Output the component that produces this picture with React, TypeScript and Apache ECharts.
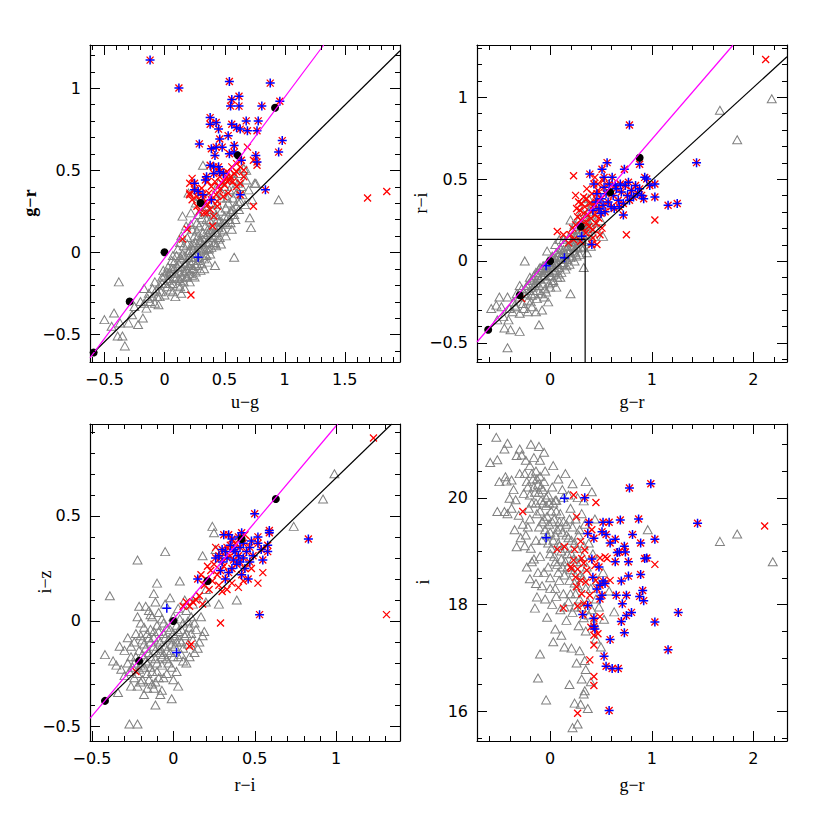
import React, { useEffect, useRef } from "react";
import * as echarts from "echarts";

// ---------- Panel 1: u-g vs g-r ----------
const p1Grey: number[][] = [
  [-0.5,-0.41],[-0.44,-0.45],[-0.39,-0.51],[-0.35,-0.51],[-0.33,-0.57],[-0.37,-0.43],[-0.3,-0.43],[-0.27,-0.38],[-0.22,-0.44],[-0.18,-0.4],
  [-0.15,-0.34],[-0.17,-0.31],[-0.17,-0.22],[-0.38,-0.18],[-0.42,-0.37],[-0.25,-0.33],[-0.2,-0.3],[-0.12,-0.3],[-0.08,-0.31],[-0.05,-0.32],
  [-0.13,-0.25],[-0.1,-0.22],[-0.06,-0.27],[-0.03,-0.24],[-0.08,-0.18],[-0.04,-0.2],[-0.02,-0.15],
  [0.0,-0.26],[0.02,-0.21],[0.03,-0.17],[0.05,-0.23],[0.05,-0.13],[0.07,-0.19],[0.08,-0.1],[0.09,-0.27],[0.1,-0.15],[0.11,-0.2],
  [0.12,-0.07],[0.12,-0.12],[0.13,-0.21],[0.14,-0.04],[0.15,-0.15],[0.15,-0.09],[0.16,-0.18],[0.17,-0.02],[0.18,-0.11],[0.18,-0.06],
  [0.19,-0.15],[0.2,0.0],[0.2,-0.08],[0.21,-0.13],[0.22,-0.03],[0.22,0.04],[0.23,-0.1],[0.24,-0.05],[0.24,0.02],[0.25,-0.15],
  [0.26,0.06],[0.26,-0.01],[0.27,-0.07],[0.28,0.03],[0.28,0.1],[0.29,-0.03],[0.3,0.07],[0.3,-0.11],[0.31,0.01],[0.32,0.12],
  [0.32,0.05],[0.33,-0.04],[0.34,0.09],[0.34,0.16],[0.35,0.02],[0.36,0.11],[0.36,-0.06],[0.37,0.06],[0.38,0.14],[0.38,0.19],
  [0.39,0.03],[0.4,0.1],[0.4,0.22],[0.41,0.16],[0.42,-0.08],[0.42,0.06],[0.43,0.12],[0.44,0.2],[0.45,0.15],[0.46,0.09],
  [0.47,0.25],[0.48,0.18],[0.49,0.13],[0.5,0.22],[0.51,0.27],[0.52,0.17],[0.53,0.3],[0.54,0.2],[0.55,0.25],[0.56,0.14],
  [0.57,0.33],[0.58,0.23],[0.58,-0.03],[0.6,0.28],[0.6,0.36],[0.62,0.26],[0.63,0.31],[0.64,0.4],[0.65,0.35],[0.67,0.29],
  [0.68,0.44],[0.7,0.38],[0.71,0.21],[0.72,0.15],[0.73,0.32],[0.75,0.42],[0.95,0.32],
  [0.1,-0.02],[0.06,-0.05],[0.14,-0.25],[0.03,-0.09],[0.08,-0.15],[0.17,-0.22],[0.21,-0.18],[0.19,0.05],[0.25,0.1],[0.23,0.14],
  [0.29,0.16],[0.31,0.21],[0.27,0.18],[0.33,0.25],[0.35,0.28],[0.36,0.34],[0.39,0.3],[0.42,0.36],[0.45,0.42],[0.47,0.33],
  [0.5,0.4],[0.53,0.45],[0.55,0.48],[0.58,0.44],[0.62,0.48],[0.66,0.51],[0.54,0.38],[0.4,0.26],[0.3,0.34],[0.26,0.3],
  [0.22,0.24],[0.18,0.16],[0.15,0.22],[0.25,0.38],[0.2,0.36],[0.14,0.1],[0.22,0.17],[0.16,0.04],[0.11,0.02],[0.07,-0.02],
  [0.04,-0.12],[0.01,-0.19],[-0.01,-0.11],[0.13,0.06],[0.28,0.23],[0.37,0.24],[0.44,0.29],[0.48,0.36],[0.52,0.33],[0.57,0.38],
  [0.61,0.42],[0.43,0.04],[0.35,-0.02],[0.47,0.05],[0.33,-0.1],[0.26,-0.12],[0.38,-0.01],[0.32,0.53],[0.68,0.5],[0.76,0.42],
  [0.0,-0.14],[0.02,-0.12],[0.04,-0.16],[0.06,-0.1],[0.08,-0.06],[0.09,-0.13],[0.11,-0.09],[0.13,-0.03],[0.13,-0.17],[0.15,-0.01],
  [0.16,-0.12],[0.17,-0.07],[0.19,-0.1],[0.2,-0.03],[0.21,0.01],[0.22,-0.07],[0.23,-0.14],[0.24,0.05],[0.25,-0.03],[0.26,-0.08],
  [0.27,0.0],[0.28,-0.05],[0.29,0.07],[0.3,0.02],[0.31,-0.07],[0.32,0.08],[0.33,0.02],[0.34,-0.01],[0.35,0.06],[0.36,0.14],
  [0.37,0.02],[0.38,0.09],[0.39,0.12],[0.41,0.05],[0.42,0.1],[0.44,0.16],[0.45,0.08],[0.46,0.19],[0.48,0.14],[0.5,0.18],
  [0.51,0.1],[0.53,0.22],[0.55,0.18],[0.57,0.26],[0.59,0.2],[0.61,0.31],[0.05,-0.19],[0.07,-0.24],[-0.02,-0.19],[-0.04,-0.27],
  [-0.07,-0.23],[-0.1,-0.27],[-0.14,-0.28],[0.12,-0.16],[0.18,-0.15],[0.24,-0.1],[0.19,0.09],[0.27,0.13],[0.35,0.2],[0.43,0.23]
];
const p1Star: number[][] = [
  [-0.12,1.17],[0.12,1.0],[0.54,1.04],[0.88,1.03],[0.56,0.93],[0.62,0.95],[0.55,0.89],[0.62,0.89],[0.81,0.89],[0.96,0.92],
  [0.38,0.82],[0.43,0.79],[0.38,0.78],[0.45,0.75],[0.56,0.78],[0.6,0.76],[0.63,0.75],[0.68,0.8],[0.69,0.74],[0.78,0.8],[0.77,0.74],
  [0.53,0.71],[0.46,0.69],[0.29,0.66],[0.39,0.63],[0.43,0.64],[0.48,0.64],[0.58,0.65],[0.58,0.61],[0.98,0.68],[0.95,0.61],
  [0.54,0.6],[0.76,0.59],[0.77,0.55],[0.42,0.59],[0.38,0.53],[0.41,0.52],[0.45,0.52],[0.41,0.48],[0.46,0.49],[0.49,0.48],
  [0.35,0.46],[0.25,0.42],[0.34,0.44],[0.25,0.38],[0.28,0.37],[0.32,0.35],[0.39,0.32],[0.64,0.56],[0.63,0.35],[0.84,0.38]
];
const p1BlueOnly: number[][] = [[0.28,-0.03]];
const p1RedOnly: number[][] = [
  [0.23,0.45],[0.21,0.42],[0.21,0.35],[0.23,0.32],[0.27,0.34],[0.32,0.33],[0.37,0.36],[0.45,0.4],[0.48,0.42],[0.51,0.45],
  [0.52,0.43],[0.55,0.46],[0.58,0.48],[0.6,0.49],[0.56,0.52],[0.63,0.52],[0.66,0.5],[0.69,0.64],[0.63,0.42],[0.44,0.28],
  [0.38,0.26],[0.35,0.24],[0.41,0.22],[0.4,0.16],[0.19,0.14],[0.15,0.08],[0.22,-0.26],[0.74,0.28],[0.74,0.56],[0.77,0.53],
  [1.69,0.33],[1.85,0.37],[0.46,0.38],[0.49,0.34],[0.53,0.36],[0.33,0.3],[0.27,0.28],[0.29,0.25],[0.46,0.46],[0.42,0.43],
  [0.66,0.46],[0.6,0.4],[0.21,0.36],[0.3,0.31],[0.36,0.29],[0.5,0.41],[0.54,0.44],[0.57,0.43],[0.43,0.35],[0.39,0.4],
  [0.36,0.43],[0.31,0.39],[0.52,0.49],[0.6,0.54],[0.33,0.24],[0.44,0.31]
];
const p1Dots: number[][] = [[-0.59,-0.61],[-0.29,-0.3],[0,0],[0.3,0.3],[0.61,0.59],[0.92,0.88]];
const p1Magenta: number[][] = [[-0.62,-0.643],[1.325,1.262]];
const p1Black: number[][] = [[-0.6,-0.618],[1.96,1.227]];

// ---------- Panel 2: g-r vs r-i ----------
const p2Grey: number[][] = [
  [-0.5,-0.22],[-0.42,-0.22],[-0.58,-0.29],[-0.53,-0.27],[-0.46,-0.34],[-0.41,-0.36],[-0.45,-0.41],[-0.39,-0.42],[-0.3,-0.43],[-0.42,-0.53],
  [-0.52,-0.36],[-0.11,-0.39],[-0.34,-0.28],[-0.3,-0.32],[-0.22,-0.31],[-0.25,0.0],[0.2,-0.2],[0.33,-0.04],[0.52,0.15],[0.5,0.245],
  [2.18,0.99],[1.67,0.92],[1.84,0.74],[-0.02,-0.25],[-0.36,-0.25],[-0.27,-0.26],[-0.18,-0.28],[-0.14,-0.31],[-0.08,-0.3],
  [-0.25,-0.2],[-0.23,-0.15],[-0.22,-0.24],[-0.2,-0.18],[-0.19,-0.12],[-0.18,-0.21],[-0.17,-0.16],[-0.16,-0.09],[-0.15,-0.2],[-0.14,-0.13],
  [-0.13,-0.18],[-0.12,-0.07],[-0.11,-0.15],[-0.1,-0.11],[-0.09,-0.2],[-0.08,-0.05],[-0.07,-0.14],[-0.06,-0.09],[-0.05,-0.17],[-0.04,-0.03],
  [-0.03,-0.11],[-0.02,-0.07],[-0.01,-0.14],[0.0,-0.02],[0.01,-0.09],[0.02,-0.05],[0.03,-0.12],[0.04,0.0],[0.05,-0.06],[0.06,-0.02],
  [0.07,-0.1],[0.08,0.03],[0.09,-0.04],[0.1,0.01],[0.11,-0.07],[0.12,0.05],[0.13,-0.01],[0.14,0.03],[0.15,-0.05],[0.16,0.07],
  [0.17,0.01],[0.18,0.05],[0.19,-0.02],[0.2,0.09],[0.21,0.03],[0.22,0.12],[0.23,0.06],[0.24,0.0],[0.25,0.14],[0.26,0.08],
  [0.27,0.17],[0.28,0.11],[0.29,0.04],[0.3,0.2],[0.31,0.14],[0.32,0.23],[0.33,0.08],[0.34,0.18],[0.35,0.27],[0.36,0.12],
  [0.37,0.22],[0.38,0.3],[0.39,0.16],[0.4,0.33],[0.42,0.25],[0.44,0.36],[0.45,0.2],[0.47,0.3],[0.22,0.19],[0.18,0.14],
  [0.14,0.11],[0.1,0.08],[0.06,0.05],[0.02,0.03],[-0.02,0.0],[-0.06,-0.03],[-0.1,-0.04],[-0.14,-0.07],[-0.2,-0.1],[-0.28,-0.17],
  [-0.3,-0.22],[-0.33,-0.2],[0.13,0.13],[0.24,0.22],[0.29,0.26],[0.31,0.3],[0.26,0.03],[0.16,-0.03],[0.08,-0.08],[0.0,-0.16],
  [-0.06,-0.22],[0.36,0.05],[0.4,0.09],[0.05,0.1],[-0.03,0.06],[0.09,0.13],[0.2,0.25],[0.34,0.36],[0.38,0.38],[0.43,0.15],
  [-0.48,-0.28],[-0.37,-0.31],[-0.26,-0.29],
  [-0.24,-0.17],[-0.21,-0.14],[-0.17,-0.11],[-0.15,-0.15],[-0.12,-0.1],[-0.11,-0.05],[-0.08,-0.09],[-0.07,-0.03],[-0.05,-0.07],[-0.03,-0.04],
  [-0.01,-0.06],[0.0,-0.09],[0.01,0.0],[0.03,-0.03],[0.04,-0.07],[0.05,0.02],[0.07,-0.01],[0.08,-0.04],[0.09,0.05],[0.11,0.02],
  [0.12,-0.02],[0.13,0.07],[0.15,0.04],[0.16,0.01],[0.17,0.09],[0.19,0.06],[0.2,0.02],[0.21,0.11],[0.23,0.09],[0.24,0.15],
  [0.25,0.05],[0.26,0.12],[0.27,0.08],[0.28,0.15],[0.29,0.19],[0.3,0.09],[0.32,0.16],[0.33,0.21],[0.35,0.13],[0.36,0.2],
  [0.37,0.25],[0.39,0.22],[0.41,0.28],[-0.13,-0.23],[-0.19,-0.25],[-0.04,-0.19],[0.02,-0.13],[-0.3,-0.15],[-0.35,-0.27],[-0.4,-0.29],
  [0.06,-0.16],[0.1,-0.1]
];
const p2Star: number[][] = [
  [0.78,0.83],[1.44,0.6],[0.56,0.6],[0.39,0.53],[0.51,0.56],[0.53,0.51],[0.61,0.51],[0.73,0.56],[0.88,0.59],[0.93,0.51],
  [0.95,0.5],[1.03,0.47],[0.98,0.46],[0.69,0.47],[0.77,0.48],[0.43,0.47],[1.03,0.39],[1.16,0.34],[1.25,0.35],[0.92,0.38],
  [0.72,0.28],[0.41,0.1],[0.45,0.36],[0.48,0.32],[0.5,0.38],[0.52,0.34],[0.55,0.41],[0.57,0.36],[0.6,0.33],[0.62,0.4],
  [0.65,0.44],[0.67,0.37],[0.7,0.42],[0.72,0.35],[0.74,0.46],[0.76,0.4],[0.78,0.37],[0.8,0.43],[0.82,0.39],[0.84,0.46],
  [0.86,0.41],[0.88,0.44],[0.9,0.4],[0.46,0.41],[0.53,0.45],[0.58,0.47],[0.63,0.32],[0.68,0.33],[0.54,0.3],[0.42,0.31],
  [0.5,0.29],[0.64,0.46]
];
const p2BlueOnly: number[][] = [[0.14,0.02],[-0.04,-0.03],[0.31,0.15]];
const p2RedOnly: number[][] = [
  [0.23,0.52],[0.25,0.4],[0.07,0.18],[0.13,0.16],[0.75,0.16],[1.03,0.25],[2.12,1.23],[-0.28,-0.23],[0.44,0.51],
  [0.25,0.22],[0.27,0.27],[0.29,0.31],[0.3,0.25],[0.31,0.35],[0.32,0.2],[0.33,0.29],[0.34,0.33],[0.35,0.24],[0.36,0.38],
  [0.37,0.28],[0.38,0.21],[0.39,0.35],[0.4,0.26],[0.41,0.41],[0.42,0.19],[0.43,0.34],[0.44,0.28],[0.45,0.23],[0.46,0.37],
  [0.47,0.43],[0.48,0.26],[0.49,0.16],[0.51,0.2],[0.28,0.36],[0.26,0.32],[0.22,0.2],[0.2,0.16],[0.35,0.17],[0.3,0.12],
  [0.23,0.13],[0.18,0.11],[0.47,0.47],[0.52,0.49],[0.36,0.44],[0.33,0.39],[0.42,0.14],[0.46,0.1]
];
const p2Dots: number[][] = [[-0.61,-0.42],[-0.3,-0.21],[0,0],[0.3,0.21],[0.59,0.42],[0.88,0.63]];
const p2Magenta: number[][] = [[-0.72,-0.495],[1.8,1.318]];
const p2Black: number[][] = [[-0.61,-0.42],[2.33,1.246]];
const p2Box: number[][] = [[-0.72,0.131],[0.344,0.131],[0.344,-0.617]];

// ---------- Panel 3: r-i vs i-z ----------
const p3Grey: number[][] = [
  [-0.42,-0.16],[-0.37,-0.19],[-0.35,-0.21],[-0.32,-0.23],[-0.33,-0.12],[-0.3,-0.14],[-0.28,-0.08],[-0.39,0.12],[-0.22,0.29],[-0.05,0.33],
  [-0.27,-0.49],[-0.22,-0.49],[-0.11,-0.4],[-0.01,-0.37],[-0.07,-0.33],[-0.26,-0.31],[-0.34,-0.34],[-0.21,0.07],[-0.22,0.02],[-0.1,0.18],
  [-0.12,0.13],[0.03,0.06],[0.04,0.19],[0.18,0.31],[0.24,0.45],[0.25,0.42],[0.39,0.1],[0.2,0.09],[0.28,0.08],[0.18,-0.07],
  [0.74,0.45],[0.92,0.58],[0.99,0.7],[0.26,0.34],[-0.17,0.07],[-0.15,0.05],[-0.14,0.03],[-0.2,-0.01],
  [-0.25,-0.22],[-0.24,-0.27],[-0.23,-0.17],[-0.22,-0.25],[-0.21,-0.14],[-0.2,-0.21],[-0.19,-0.28],[-0.18,-0.11],[-0.17,-0.19],[-0.16,-0.25],
  [-0.15,-0.08],[-0.15,-0.15],[-0.14,-0.22],[-0.13,-0.3],[-0.12,-0.05],[-0.12,-0.12],[-0.11,-0.18],[-0.1,-0.24],[-0.1,-0.02],[-0.09,-0.09],
  [-0.08,-0.15],[-0.07,-0.21],[-0.07,0.01],[-0.06,-0.06],[-0.05,-0.12],[-0.04,-0.18],[-0.04,-0.03],[-0.03,-0.09],[-0.02,-0.15],[-0.01,-0.22],
  [0.0,-0.06],[0.01,-0.12],[0.02,-0.02],[0.03,-0.17],[0.04,-0.09],[0.05,-0.04],[0.06,-0.13],[0.07,-0.07],[0.08,-0.2],[0.09,-0.11],
  [0.1,-0.03],[0.12,-0.09],[0.13,-0.15],[0.14,-0.04],[0.16,-0.1],[-0.18,-0.03],[-0.13,0.02],[-0.09,0.04],[-0.16,-0.32],[-0.11,-0.29],
  [-0.06,-0.27],[-0.2,-0.07],[-0.26,-0.12],[-0.23,-0.06],[-0.28,-0.2],[-0.3,-0.26],[-0.05,0.08],[0.0,0.02],[-0.14,-0.1],[-0.08,-0.13],
  [-0.02,-0.08],[0.04,0.01],[0.08,0.05],[0.11,0.02],[0.06,-0.19],[0.02,-0.24],[-0.04,-0.25],[0.1,-0.17],[0.15,-0.13],[0.12,0.08],
  [0.07,0.1],[0.14,0.12],[0.2,0.15],[-0.02,0.11],[-0.11,0.09],[0.03,-0.31],[-0.08,-0.35],[-0.18,-0.35],[0.17,0.02],[0.19,-0.05],
  [-0.24,-0.2],[-0.21,-0.23],[-0.19,-0.16],[-0.18,-0.22],[-0.17,-0.13],[-0.16,-0.06],[-0.14,-0.17],[-0.13,-0.24],[-0.12,-0.08],[-0.11,-0.14],
  [-0.1,-0.2],[-0.09,-0.05],[-0.08,-0.1],[-0.07,-0.17],[-0.06,-0.01],[-0.05,-0.08],[-0.04,-0.14],[-0.03,-0.2],[-0.02,-0.04],[-0.01,-0.11],
  [0.0,-0.17],[0.01,-0.07],[0.02,-0.1],[0.03,-0.05],[0.05,-0.1],[0.06,-0.01],[0.08,-0.06],[0.09,0.0],[0.11,-0.06],[0.13,-0.01],
  [-0.2,-0.29],[-0.15,-0.28],[-0.09,-0.27],[-0.12,-0.32],[-0.22,-0.31],[-0.26,-0.17],[-0.27,-0.24],[-0.16,-0.2],[-0.06,-0.16],[0.0,-0.28],
  [0.05,-0.16],[-0.19,-0.09],[-0.24,-0.1],[-0.14,-0.04]
];
const p3Star: number[][] = [
  [0.5,0.51],[0.59,0.43],[0.59,0.42],[0.83,0.39],[0.31,0.41],[0.34,0.41],[0.42,0.42],[0.52,0.4],[0.52,0.37],[0.58,0.36],
  [0.58,0.33],[0.45,0.33],[0.4,0.31],[0.37,0.34],[0.3,0.34],[0.28,0.31],[0.33,0.3],[0.41,0.28],[0.47,0.28],[0.55,0.29],
  [0.36,0.25],[0.46,0.2],[0.32,0.2],[0.15,0.2],[0.53,0.03],[0.35,0.36],[0.38,0.33],[0.43,0.37],[0.47,0.35],[0.49,0.31],
  [0.39,0.27],[0.34,0.23],[0.44,0.25],[0.3,0.28],[0.36,0.39],[0.41,0.35],[0.26,0.3],[0.32,0.33],[0.37,0.29],[0.42,0.22],
  [0.48,0.38],[0.54,0.34],[0.4,0.4],[0.29,0.24],[0.43,0.3]
];
const p3BlueOnly: number[][] = [[-0.04,0.06],[0.02,-0.15]];
const p3RedOnly: number[][] = [
  [1.23,0.87],[1.31,0.03],[0.29,-0.01],[0.11,-0.11],[0.1,-0.12],[-0.23,-0.24],[0.55,0.23],[0.52,0.18],[0.4,0.16],[0.17,0.22],
  [0.16,0.12],[0.18,0.08],[0.08,0.09],[0.06,0.07],[0.22,0.15],[0.3,0.14],[0.2,0.2],[0.25,0.27],[0.27,0.22],[0.23,0.24],
  [0.31,0.26],[0.35,0.31],[0.24,0.19],[0.28,0.17],[0.21,0.26],[0.33,0.35],[0.38,0.37],[0.44,0.41],[0.26,0.35],[0.29,0.3],
  [0.19,0.17],[0.14,0.1],[0.12,0.09],[0.1,0.07],[0.36,0.18],[0.33,0.15],[0.43,0.19],[0.48,0.25]
];
const p3Dots: number[][] = [[-0.42,-0.38],[-0.21,-0.19],[0,0],[0.21,0.19],[0.42,0.39],[0.63,0.58]];
const p3Magenta: number[][] = [[-0.512,-0.463],[1.01,0.937]];
const p3Black: number[][] = [[-0.42,-0.384],[1.342,0.937]];

// ---------- Panel 4: g-r vs i ----------
const p4Grey: number[][] = [
  [-0.53,21.13],[-0.59,20.66],[-0.52,20.71],[-0.45,20.91],[-0.42,21.02],[-0.3,20.91],[-0.11,20.96],[-0.33,20.79],[-0.28,20.8],[-0.5,20.3],
  [-0.43,20.31],[-0.38,20.33],[-0.44,20.39],[-0.52,19.74],[-0.45,19.74],[-0.42,19.7],[-0.4,19.99],[-0.34,19.96],[-0.26,20.08],[-0.31,19.67],
  [-0.33,19.08],[-0.2,18.48],[-0.14,18.39],[-0.13,18.14],[-0.15,17.93],[-0.03,17.76],[0.05,17.54],[0.11,17.42],[-0.1,17.07],[-0.12,16.62],
  [-0.04,16.21],[0.21,17.18],[0.29,17.13],[0.34,16.95],[0.35,16.78],[0.31,16.6],[0.34,16.38],[0.33,16.32],[0.24,16.15],[0.3,16.13],
  [0.22,15.69],[0.27,15.76],[0.5,17.2],[0.53,17.72],[0.63,17.86],[0.96,19.4],[1.67,19.18],[1.84,19.32],[2.19,18.8],[0.41,20.11],
  [0.22,20.26],[0.33,19.94],
  [-0.25,20.45],[-0.22,20.2],[-0.2,20.6],[-0.18,19.9],[-0.17,20.35],[-0.15,20.1],[-0.14,20.5],[-0.13,19.7],[-0.12,20.25],[-0.11,19.45],
  [-0.1,20.4],[-0.09,19.95],[-0.08,19.2],[-0.07,20.15],[-0.06,19.6],[-0.05,20.5],[-0.04,19.85],[-0.03,19.3],[-0.02,20.05],[-0.01,19.5],
  [0.0,18.95],[0.01,19.75],[0.02,20.2],[0.03,19.2],[0.04,19.6],[0.05,18.8],[0.06,19.95],[0.07,19.4],[0.08,18.6],[0.09,19.1],
  [0.1,19.7],[0.11,18.85],[0.12,19.35],[0.13,20.0],[0.14,18.55],[0.15,19.05],[0.16,19.5],[0.17,18.7],[0.18,19.25],[0.19,18.45],
  [0.2,19.8],[0.21,18.95],[0.22,19.45],[0.23,18.6],[0.24,19.15],[0.25,19.6],[0.26,18.8],[0.27,18.35],[0.28,19.3],[0.3,18.55],
  [0.31,19.7],[0.32,18.9],[0.34,19.5],[0.36,18.7],[0.38,19.15],[0.4,18.3],[0.42,18.95],[0.44,19.6],[0.45,18.1],
  [-0.27,19.5],[-0.24,19.3],[-0.21,19.8],[-0.19,19.05],[-0.16,18.85],[-0.23,18.7],[-0.29,19.25],[-0.35,19.4],[-0.38,19.8],[-0.36,20.15],
  [-0.3,20.45],[-0.24,20.7],[-0.19,21.0],[-0.16,20.75],[-0.1,20.7],[-0.06,20.85],[-0.12,18.6],[-0.08,18.35],[-0.05,18.1],[0.0,18.3],
  [0.02,18.0],[0.06,18.15],[0.1,17.9],[0.13,18.2],[0.16,17.7],[0.18,18.05],[0.22,17.85],[0.25,18.2],[0.28,17.6],[0.31,17.95],
  [0.35,17.5],[0.38,17.8],[0.43,17.65],[0.46,18.45],[0.48,17.95],[0.03,17.3],[0.14,17.2],[0.26,16.9],[0.19,16.5],[0.4,16.55],
  [0.37,16.05],[0.45,17.35],[0.58,18.25],[0.52,18.6],[0.08,20.35],[0.15,20.45],[0.03,20.6],[0.12,20.15],[0.27,20.0],[0.35,20.3],
  [0.18,20.05],[-0.02,18.7],[0.05,19.95],[0.09,19.55],[-0.14,19.2],[-0.2,19.6],
  [-0.23,20.3],[-0.2,20.05],[-0.18,20.45],[-0.16,20.2],[-0.14,19.9],[-0.13,20.35],[-0.11,20.1],[-0.1,19.75],[-0.09,20.2],[-0.08,19.55],
  [-0.07,19.9],[-0.06,20.3],[-0.05,19.4],[-0.04,20.0],[-0.03,19.65],[-0.02,19.15],[-0.01,19.9],[0.0,19.35],[0.01,19.05],[0.02,19.55],
  [0.03,19.9],[0.04,18.9],[0.05,19.3],[0.06,19.75],[0.07,18.75],[0.08,19.15],[0.1,19.45],[0.11,19.0],[0.12,18.7],[0.13,19.55],
  [0.15,18.8],[0.16,19.3],[0.17,18.95],[0.19,19.6],[0.2,18.65],[0.21,19.2],[0.23,18.85],[0.24,18.4],[0.26,19.05],[0.27,18.6],
  [0.29,19.4],[0.3,18.8],[0.32,18.5],[0.33,19.1],[0.35,18.3],[-0.22,19.45],[-0.25,19.1],[-0.18,18.8],[-0.1,18.9],[-0.06,18.6],
  [0.0,18.5],[0.05,18.3],[0.09,18.45],[0.14,17.95],[0.2,18.2],[0.24,17.95],[0.29,18.1],[0.33,17.75],[0.37,18.05],[0.41,17.9]
];
const p4Star: number[][] = [
  [0.99,20.26],[0.78,20.18],[0.34,20.0],[1.45,19.52],[0.69,19.58],[0.87,19.6],[0.38,19.54],[0.52,19.54],[0.58,19.54],[1.03,19.22],
  [0.81,19.31],[0.37,19.33],[0.51,19.36],[0.55,19.31],[0.43,19.24],[0.64,19.22],[0.59,19.15],[0.73,19.09],[0.89,19.15],[0.74,18.98],
  [0.66,18.97],[0.68,18.98],[0.93,18.86],[0.95,18.87],[0.41,18.85],[0.64,18.8],[0.77,18.8],[0.48,18.7],[0.89,18.56],[0.77,18.53],
  [0.42,18.51],[0.7,18.44],[0.52,18.44],[0.54,18.39],[0.49,18.36],[0.91,18.26],[0.46,18.29],[0.51,18.17],[0.65,18.17],[0.75,18.17],
  [0.88,18.15],[0.92,18.07],[0.49,18.1],[0.71,18.01],[0.37,17.98],[1.26,17.85],[0.8,17.85],[0.75,17.79],[0.32,17.81],[0.43,17.74],
  [0.7,17.68],[1.03,17.67],[0.43,17.59],[0.44,17.54],[0.73,17.47],[0.59,17.34],[1.16,17.15],[0.53,17.03],[0.55,16.84],[0.61,16.8],
  [0.67,16.8],[0.58,16.01]
];
const p4BlueOnly: number[][] = [[0.14,19.99],[-0.04,19.25]];
const p4RedOnly: number[][] = [
  [0.23,20.05],[0.45,19.91],[0.26,19.64],[-0.27,19.74],[2.11,19.47],[1.03,18.75],[0.07,19.03],[0.14,19.08],[0.24,19.03],[0.3,19.18],
  [0.41,19.4],[0.34,19.02],[0.23,18.83],[0.31,18.86],[0.33,18.77],[0.21,18.67],[0.27,18.66],[0.36,18.64],[0.25,18.51],[0.3,18.45],
  [0.35,18.42],[0.45,18.45],[0.54,18.89],[0.56,18.86],[0.59,18.45],[0.13,17.93],[0.27,17.97],[0.33,18.01],[0.49,17.77],[0.4,17.57],
  [0.43,17.42],[0.47,17.45],[0.43,17.24],[0.39,16.96],[0.43,16.65],[0.43,16.48],[0.27,15.96],[0.2,18.7],[0.26,18.33],[0.31,18.2],
  [0.39,18.17],[0.44,18.73],[0.49,18.87]
];

// ---------- Axis titles ----------
const xTitles = ["u\u2212g", "g\u2212r", "r\u2212i", "g\u2212r"];
const yTitles = ["g\u2212r", "r\u2212i", "i\u2212z", "i"];

const CROSS = "path://M0,0L10,10M0,10L10,0";
const PLUS = "path://M5,0L5,10M0,5L10,5";

const grids = [
  { left: 90, top: 45, width: 310, height: 317 },
  { left: 477, top: 45, width: 310, height: 317 },
  { left: 90, top: 424, width: 310, height: 317 },
  { left: 477, top: 424, width: 310, height: 317 },
];

// axis ranges: [min, max, splitNumber]
const xRanges = [
  [-0.62, 1.96, 5],
  [-0.72, 2.33, 3],
  [-0.512, 1.393, 4],
  [-0.72, 2.33, 3],
];
const yRanges = [
  [-0.668, 1.262, 4],
  [-0.617, 1.318, 4],
  [-0.571, 0.937, 3],
  [15.44, 21.38, 3],
];
// tick steps: [major, minor]
const xTickSteps = [[0.5, 0.1], [1, 0.2], [0.5, 0.1], [1, 0.2]];
const yTickSteps = [[0.5, 0.1], [0.5, 0.1], [0.5, 0.1], [2, 0.5]];

const fmt = (v: number) => String(Math.round(v * 1000) / 1000).replace("-", "\u2212");

function tickValues(min: number, max: number, step: number) {
  const out: number[] = [];
  for (let k = Math.ceil(min / step - 1e-9); k * step <= max + 1e-9; k++) {
    out.push(Math.round(k * step * 1e6) / 1e6);
  }
  return out;
}
function isMajor(v: number, major: number) {
  const r = v / major;
  return Math.abs(r - Math.round(r)) < 1e-6;
}

function makeAxis(gridIndex: number, range: number[], position: string, primary: boolean) {
  return {
    type: "value",
    gridIndex,
    position,
    min: range[0],
    max: range[1],
    splitNumber: range[2],
    scale: true,
    axisLine: { show: true, onZero: false, lineStyle: { color: "#000", width: 1.2 } },
    axisTick: { show: false },
    minorTick: { show: false },
    splitLine: { show: false },
    axisLabel: {
      show: primary,
      showMinLabel: false,
      showMaxLabel: false,
      formatter: fmt,
      fontFamily: "DejaVu Sans",
      fontSize: 16,
      color: "#000",
      margin: 9,
    },
  };
}

const greyStyle = { color: "rgba(0,0,0,0)", borderColor: "#808080", borderWidth: 1, opacity: 1 };
const redStyle = { color: "rgba(0,0,0,0)", borderColor: "#ff0000", borderWidth: 1.3, opacity: 1 };
const blueStyle = { color: "rgba(0,0,0,0)", borderColor: "#0000ff", borderWidth: 1.5, opacity: 1 };

function scatter(ax: number, data: number[][], kind: string) {
  const base: any = { type: "scatter", xAxisIndex: ax, yAxisIndex: ax, data };
  if (kind === "grey") return { ...base, symbol: "triangle", symbolSize: [9, 8], itemStyle: greyStyle };
  if (kind === "red") return { ...base, symbol: CROSS, symbolSize: 7, itemStyle: redStyle };
  if (kind === "blue") return { ...base, symbol: PLUS, symbolSize: 9, itemStyle: blueStyle };
  return { ...base, symbol: "circle", symbolSize: 8, itemStyle: { color: "#000000", opacity: 1 } };
}

function line(ax: number, data: number[][], color: string) {
  return {
    type: "line",
    xAxisIndex: ax,
    yAxisIndex: ax,
    data,
    showSymbol: false,
    symbol: "none",
    lineStyle: { color, width: 1.2 },
  };
}

// tick marks on all four sides, placed through the axes' own scale (api.coord)
function tickSeries(i: number, ax: number) {
  const xr = xRanges[i];
  const yr = yRanges[i];
  const xMid = (xr[0] + xr[1]) / 2;
  const yMid = (yr[0] + yr[1]) / 2;
  return {
    type: "custom",
    xAxisIndex: ax,
    yAxisIndex: ax,
    data: [[xMid, yMid]],
    silent: true,
    z: 10,
    renderItem: (params: any, api: any) => {
      const cs = params.coordSys;
      const children: any[] = [];
      const bottom = cs.y + cs.height;
      const right = cs.x + cs.width;
      for (const v of tickValues(xr[0], xr[1], xTickSteps[i][1])) {
        const px = Math.round(api.coord([v, yMid])[0]) + 0.5;
        const len = isMajor(v, xTickSteps[i][0]) ? 10 : 5;
        children.push({ type: "line", shape: { x1: px, y1: bottom, x2: px, y2: bottom - len }, style: { stroke: "#000", lineWidth: 1 } });
        children.push({ type: "line", shape: { x1: px, y1: cs.y, x2: px, y2: cs.y + len }, style: { stroke: "#000", lineWidth: 1 } });
      }
      for (const v of tickValues(yr[0], yr[1], yTickSteps[i][1])) {
        const py = Math.round(api.coord([xMid, v])[1]) + 0.5;
        const len = isMajor(v, yTickSteps[i][0]) ? 10 : 5;
        children.push({ type: "line", shape: { x1: cs.x, y1: py, x2: cs.x + len, y2: py }, style: { stroke: "#000", lineWidth: 1 } });
        children.push({ type: "line", shape: { x1: right, y1: py, x2: right - len, y2: py }, style: { stroke: "#000", lineWidth: 1 } });
      }
      return { type: "group", children };
    },
  };
}

// axis title positions (centres)
const xTitlePos = [[245, 402], [632, 402], [245, 785], [632, 785]];
const yTitlePos = [[30, 203], [421, 203], [45, 582], [423, 582]];

export default function App() {
  const ref = useRef<HTMLDivElement>(null);
  useEffect(() => {
    if (!ref.current) return;
    const chart = echarts.init(ref.current, null, { renderer: "svg" });
    const xAxis: any[] = [];
    const yAxis: any[] = [];
    const greys = [p1Grey, p2Grey, p3Grey, p4Grey];
    const stars = [p1Star, p2Star, p3Star, p4Star];
    const redOnly = [p1RedOnly, p2RedOnly, p3RedOnly, p4RedOnly];
    const blueOnly = [p1BlueOnly, p2BlueOnly, p3BlueOnly, p4BlueOnly];
    const magentas = [p1Magenta, p2Magenta, p3Magenta, null];
    const blacks = [p1Black, p2Black, p3Black, null];
    const dots = [p1Dots, p2Dots, p3Dots, null];
    const series: any[] = [];
    const graphic: any[] = [];
    for (let i = 0; i < 4; i++) {
      const ax = xAxis.length;
      xAxis.push(makeAxis(i, xRanges[i], "bottom", true));
      yAxis.push(makeAxis(i, yRanges[i], "left", true));
      xAxis.push(makeAxis(i, xRanges[i], "top", false));
      yAxis.push(makeAxis(i, yRanges[i], "right", false));
      series.push(scatter(ax, greys[i], "grey"));
      if (blacks[i]) series.push(line(ax, blacks[i] as number[][], "#000000"));
      if (magentas[i]) series.push(line(ax, magentas[i] as number[][], "#ff00ff"));
      if (i === 1) series.push(line(ax, p2Box, "#000000"));
      series.push(scatter(ax, [...redOnly[i], ...stars[i]], "red"));
      series.push(scatter(ax, [...blueOnly[i], ...stars[i]], "blue"));
      if (dots[i]) series.push(scatter(ax, dots[i] as number[][], "dot"));
      series.push(tickSeries(i, ax));
      graphic.push({
        type: "text",
        x: xTitlePos[i][0],
        y: xTitlePos[i][1],
        style: {
          text: xTitles[i],
          font: "18px 'Liberation Serif'",
          fill: "#000",
          textAlign: "center",
          textVerticalAlign: "middle",
        },
      });
      graphic.push({
        type: "text",
        x: yTitlePos[i][0],
        y: yTitlePos[i][1],
        rotation: Math.PI / 2,
        style: {
          text: yTitles[i],
          font: (i === 0 ? "bold " : "") + "18px 'Liberation Serif'",
          fill: "#000",
          textAlign: "center",
          textVerticalAlign: "middle",
        },
      });
    }
    chart.setOption({
      animation: false,
      backgroundColor: "#ffffff",
      grid: grids.map((g) => ({ ...g, show: false })),
      xAxis,
      yAxis,
      series,
      graphic,
    });
    return () => chart.dispose();
  }, []);
  return (
    <div ref={ref} style={{ position: "fixed", left: 0, top: 0, width: 830, height: 830, background: "#fff" }} />
  );
}
